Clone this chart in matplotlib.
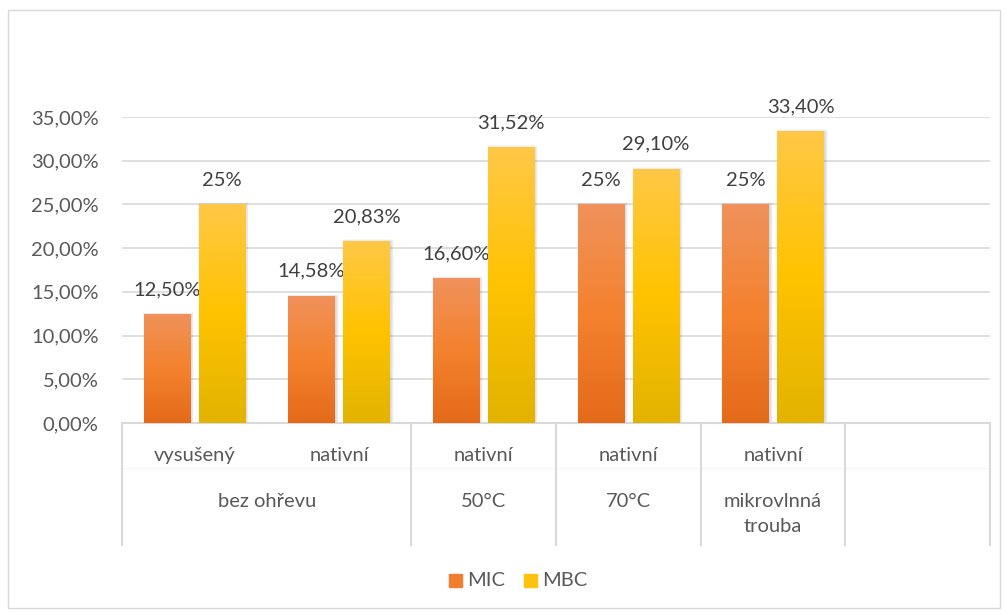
import numpy as np
import matplotlib.pyplot as plt
from matplotlib.colors import LinearSegmentedColormap
from matplotlib.patches import Rectangle
import matplotlib.transforms as mtransforms

plt.rcParams['font.family'] = ['Lato', 'DejaVu Sans']

# data
sub_labels = ['vysušený', 'nativní', 'nativní', 'nativní', 'nativní', '']
groups = [('bez ohřevu', 0, 1), ('50°C', 2, 2), ('70°C', 3, 3),
          ('mikrovlnná\ntrouba', 4, 4), ('', 5, 5)]
mic = [12.50, 14.58, 16.60, 25.0, 25.0]
mbc = [25.0, 20.83, 31.52, 29.10, 33.40]
mic_labels = ['12,50%', '14,58%', '16,60%', '25%', '25%']
mbc_labels = ['25%', '20,83%', '31,52%', '29,10%', '33,40%']
yticks = [0, 5, 10, 15, 20, 25, 30, 35]

txt = '#595959'
grid = '#D9D9D9'
fs = 14.5

fig = plt.figure(figsize=(10.06, 6.12), dpi=100)
fig.patches.append(Rectangle((8 / 1006, 4 / 612), 992 / 1006, 598 / 612,
                             transform=fig.transFigure, fill=False,
                             edgecolor='#D9D9D9', lw=1))
ax = fig.add_axes([122 / 1006, 1 - 423 / 612, 868 / 1006, 306 / 612])

cm_mic = LinearSegmentedColormap.from_list('mic', ['#E46A1A', '#F4822E', '#F0925C'])
cm_mbc = LinearSegmentedColormap.from_list('mbc', ['#E2B300', '#FFC300', '#FFC847'])

w = 0.32
x = np.arange(len(mic))
grad = np.linspace(0, 1, 256).reshape(-1, 1)


def gbar(xs, vals, cmap, labels):
    bars = ax.bar(xs, vals, w, color='none', edgecolor='none', zorder=3)
    for b, lab in zip(bars, labels):
        x0, h = b.get_x(), b.get_height()
        # soft shadow
        ax.add_patch(Rectangle((x0 + 0.006, 0), w, h, facecolor='#000000',
                               alpha=0.08, lw=2.5, edgecolor='#00000010', zorder=2))
        im = ax.imshow(grad, extent=[x0, x0 + w, 0, h], origin='lower',
                       cmap=cmap, aspect='auto', zorder=3)
        im.set_clip_path(b)
        ax.annotate(lab, (x0 + w / 2, h), xytext=(0, 17.5), textcoords='offset points',
                    ha='center', va='center', fontsize=fs, color='#404040')


gbar(x - 0.19, mic, cm_mic, mic_labels)
gbar(x + 0.19, mbc, cm_mbc, mbc_labels)

ax.set_xlim(-0.5, 5.5)
ax.set_ylim(0, 35)
ax.set_yticks(yticks)
ax.set_yticklabels([f'{t:.2f}%'.replace('.', ',') for t in yticks], fontsize=fs, color=txt)
ax.set_xticks([])
ax.tick_params(axis='y', length=0, pad=17)
for s in ax.spines.values():
    s.set_visible(False)
ax.yaxis.grid(True, color=grid, lw=1.2)
ax.set_axisbelow(True)

# two-level category axis
trans = mtransforms.blended_transform_factory(ax.transData, ax.transAxes)
ax.plot([-0.5, 5.5], [0, 0], transform=trans, color=grid, lw=1.5, clip_on=False)
ax.plot([-0.5, 5.5], [-0.147, -0.147], transform=trans, color='#F7F7F7', lw=1, clip_on=False)
for xb in [-0.5, 1.5, 2.5, 3.5, 4.5, 5.5]:
    ax.plot([xb, xb], [0, -0.4], transform=trans, color=grid, lw=1.5, clip_on=False)
for i, s in enumerate(sub_labels):
    ax.text(i, -0.105, s, transform=trans, ha='center', va='center', fontsize=fs, color=txt)
for name, a, b in groups:
    ax.text((a + b) / 2, -0.228, name, transform=trans, ha='center', va='top',
            fontsize=fs, color=txt, linespacing=1.6)

# legend
fig.patches.append(Rectangle((449 / 1006, 1 - 587 / 612), 13 / 1006, 13 / 612,
                             transform=fig.transFigure, color='#F07E2E'))
fig.patches.append(Rectangle((524 / 1006, 1 - 587 / 612), 13 / 1006, 13 / 612,
                             transform=fig.transFigure, color='#FFC20E'))
fig.text(467 / 1006, 1 - 580 / 612, 'MIC', ha='left', va='center', fontsize=fs, color=txt)
fig.text(542 / 1006, 1 - 580 / 612, 'MBC', ha='left', va='center', fontsize=fs, color=txt)

fig.savefig('out.png', dpi=100)
